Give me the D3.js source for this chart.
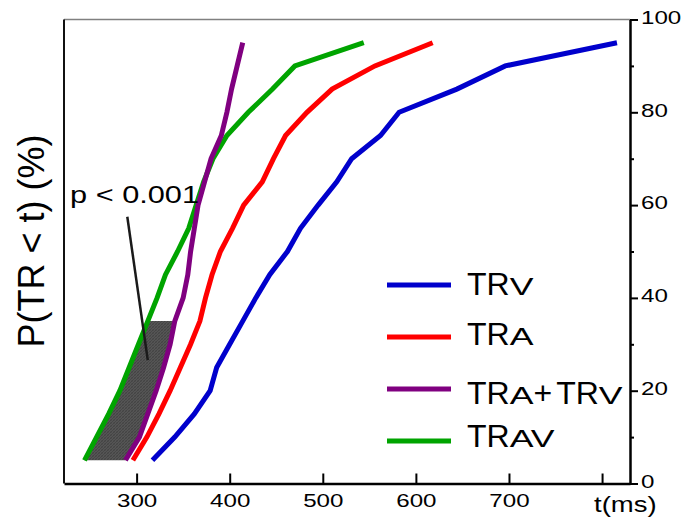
<!DOCTYPE html>
<html>
<head>
<meta charset="utf-8">
<script src="https://cdn.jsdelivr.net/npm/d3@7"></script>
<style>
  html, body { margin: 0; padding: 0; background: #fff; }
  svg { display: block; }
  text { font-family: "Liberation Sans", Arial, sans-serif; fill: #000; }
</style>
</head>
<body>
<svg id="chart" width="681" height="520"></svg>
<script>
// ---- data (cumulative probability levels, % ; reaction times, ms) ----
const levels = [5, 10, 15, 20, 25, 30, 35, 40, 45, 50, 55, 60, 65, 70, 75, 80, 85, 90, 95];
const trV   = [317, 341, 362, 379, 386, 400, 414, 428, 443, 462, 476, 495, 515, 531, 562, 582, 644, 696, 816];
const trA   = [296, 311, 324, 336, 347, 358, 368, 374, 381, 390, 403, 415, 435, 447, 460, 483, 510, 556, 618];
const trSum = [288, 303, 312, 321, 329, 336, 341, 350, 355, 358, 362, 366, 373, 380, 391, 397, 402, 408, 414];
const trAV  = [244, 257, 270, 282, 292, 302, 312, 322, 331, 344, 356, 364, 372, 382, 397, 420, 446, 470, 544];

const seriesNames  = ["TRV", "TRA", "TRA+TRV", "TRAV"];
const seriesColors = ["#0000cc", "#ff0000", "#800080", "#00a400"];
// legend label pieces: [text, size]  (big = "TR", small caps for subscripts)
const legendParts = [
  [["TR", "big"], ["V", "small"]],
  [["TR", "big"], ["A", "small"]],
  [["TR", "big"], ["A", "small"], ["+", "plus"], ["TR", "big"], ["V", "small"]],
  [["TR", "big"], ["AV", "small"]]
];

const xTicks = [300, 400, 500, 600, 700, 800];
const xTickLabels = ["300", "400", "500", "600", "700", ""];
const yTicks = [0, 20, 40, 60, 80, 100];
const yMinorTicks = [10, 30, 50, 70, 90];
const xTitle = "t(ms)";
const yTitle = "P(TR < t)  (%)";
const shadeRange = [5, 35];           // shaded region between TRAV and TRA+TRV
const annotText = "p < 0.001";
const annotLine = [[290, 57.5], [312, 26.6]];
const annotTextPos = [228.5, 60.4];

// ---- layout ----
const svg = d3.select("#chart");
const x = d3.scaleLinear().domain([222, 830]).range([64, 630]);
const y = d3.scaleLinear().domain([0, 100]).range([483.5, 19.5]);
const STRETCH = 1.27;

function stretch(sel, k) {
  sel.each(function () {
    const len = this.getComputedTextLength();
    if (len > 0) {
      d3.select(this).attr("textLength", len * k).attr("lengthAdjust", "spacingAndGlyphs");
    }
  });
}

// hatch pattern for the shaded region
const defs = svg.append("defs");
const pat = defs.append("pattern").attr("id", "hatch").attr("patternUnits", "userSpaceOnUse")
  .attr("width", 3).attr("height", 3);
pat.append("rect").attr("width", 3).attr("height", 3).attr("fill", "#555");
pat.append("path").attr("d", "M0,3 L3,0").attr("stroke", "#404040").attr("stroke-width", 0.8);
pat.append("path").attr("d", "M0,0 L3,3").attr("stroke", "#4a4a4a").attr("stroke-width", 0.6);

// shaded region
const shadeIdx = levels.map((p, i) => i).filter(i => levels[i] >= shadeRange[0] && levels[i] <= shadeRange[1]);
const area = d3.area()
  .y(i => y(levels[i]))
  .x0(i => x(trAV[i]))
  .x1(i => x(trSum[i]));
svg.append("path").datum(shadeIdx).attr("d", area).attr("fill", "url(#hatch)");

// frame: top (gray), left
svg.append("line").attr("x1", x.range()[0]).attr("x2", x.range()[1])
  .attr("y1", y(100)).attr("y2", y(100)).attr("stroke", "#808080").attr("stroke-width", 1.5);
svg.append("line").attr("x1", x.range()[0]).attr("x2", x.range()[0])
  .attr("y1", y(100)).attr("y2", y(0)).attr("stroke", "#111").attr("stroke-width", 2);

// bottom axis (ticks inward)
const gx = svg.append("g").attr("transform", `translate(0,${y(0)})`)
  .call(d3.axisBottom(x).tickValues(xTicks).tickSize(-10).tickSizeOuter(0)
    .tickFormat((d, i) => xTickLabels[i]));
gx.select(".domain").attr("stroke", "#000").attr("stroke-width", 2.5);
gx.selectAll(".tick line").attr("stroke", "#000").attr("stroke-width", 2);
gx.selectAll(".tick text").attr("y", 23.5).attr("dy", null)
  .style("font-size", "19px").attr("fill", "#000");
stretch(gx.selectAll(".tick text"), STRETCH);

// right axis
const gy = svg.append("g").attr("transform", `translate(${x.range()[1]},0)`)
  .call(d3.axisRight(y).tickValues(yTicks).tickSize(8).tickSizeOuter(0).tickPadding(3));
gy.select(".domain").attr("stroke", "#000").attr("stroke-width", 2.5);
gy.selectAll(".tick line").attr("stroke", "#000").attr("stroke-width", 2);
gy.selectAll(".tick text").attr("dy", "0.2em").style("font-size", "19px").attr("fill", "#000");
stretch(gy.selectAll(".tick text"), STRETCH);
const gym = svg.append("g").attr("transform", `translate(${x.range()[1]},0)`)
  .call(d3.axisRight(y).tickValues(yMinorTicks).tickSize(4).tickSizeOuter(0).tickFormat(""));
gym.select(".domain").remove();
gym.selectAll(".tick line").attr("stroke", "#000").attr("stroke-width", 2);

// axis titles
const xt = svg.append("text").attr("x", 594).attr("y", 512).style("font-size", "22px").text(xTitle);
stretch(xt, 1.25);
svg.append("text").attr("transform", `translate(44,${241}) rotate(-90)`)
  .attr("text-anchor", "middle").style("font-size", "36px").text(yTitle);

// curves
const series = [trV, trA, trSum, trAV];
const line = d3.line().x(d => x(d[0])).y(d => y(d[1]));
const drawOrder = [0, 1, 3, 2];
drawOrder.forEach(k => {
  const pts = series[k].map((t, i) => [t, levels[i]]);
  svg.append("path").datum(pts).attr("d", line)
    .attr("fill", "none").attr("stroke", seriesColors[k]).attr("stroke-width", 5)
    .attr("stroke-linejoin", "miter");
});

// annotation
svg.append("line")
  .attr("x1", x(annotLine[0][0])).attr("y1", y(annotLine[0][1]))
  .attr("x2", x(annotLine[1][0])).attr("y2", y(annotLine[1][1]))
  .attr("stroke", "#1a1a1a").attr("stroke-width", 2.5);
const at = svg.append("text").attr("x", x(annotTextPos[0])).attr("y", y(annotTextPos[1]))
  .style("font-size", "24px").text(annotText);
stretch(at, 1.28);

// legend
const legLineY = [285, 337, 389, 441];
const legTextY = [295, 345, 404, 447];
seriesNames.forEach((name, k) => {
  svg.append("line").attr("x1", 387).attr("x2", 451)
    .attr("y1", legLineY[k]).attr("y2", legLineY[k])
    .attr("stroke", seriesColors[k]).attr("stroke-width", 5);
  let cx = 467;
  legendParts[k].forEach(([txt, kind]) => {
    const t = svg.append("text").attr("x", cx).attr("y", legTextY[k])
      .style("font-size", kind === "small" ? "23px" : "32px").text(txt);
    let w = t.node().getComputedTextLength();
    if (kind === "small") {
      w = w * 1.55;
      t.attr("textLength", w).attr("lengthAdjust", "spacingAndGlyphs");
    }
    cx += w + (kind === "plus" ? 4 : 0);
  });
});
</script>
</body>
</html>
